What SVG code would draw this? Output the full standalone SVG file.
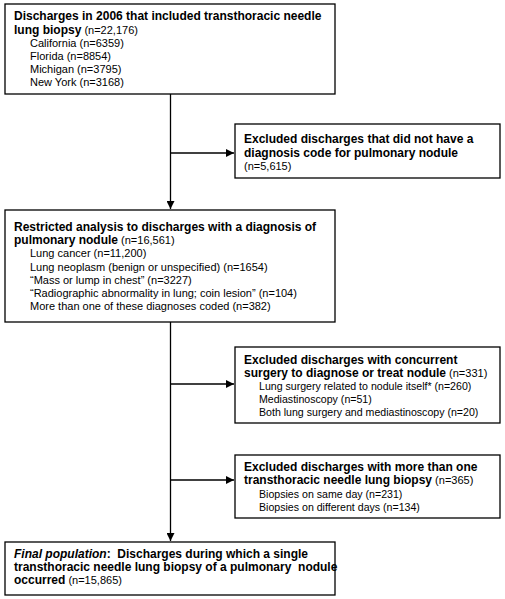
<svg xmlns="http://www.w3.org/2000/svg" width="505" height="599" viewBox="0 0 505 599">
<style>
text{font-family:"Liberation Sans",Arial,sans-serif;font-size:11px;fill:#000;white-space:pre}
.b{font-weight:bold;font-size:12px}
.s{font-size:10.6px}
.box{fill:#fff;stroke:#000;stroke-width:1.3}
.ln{stroke:#000;stroke-width:1.3;fill:none}
</style>
<defs>
<marker id="ah" viewBox="0 0 10 10" refX="10" refY="5" markerWidth="8" markerHeight="8" markerUnits="userSpaceOnUse" orient="auto">
<path d="M0,0 L10,5 L0,10 z" fill="#000"/>
</marker>
</defs>
<g id="connectors">
<line class="ln" x1="170.5" y1="94" x2="170.5" y2="209" marker-end="url(#ah)"/>
<line class="ln" x1="170.5" y1="153" x2="234" y2="153" marker-end="url(#ah)"/>
<line class="ln" x1="170.5" y1="322" x2="170.5" y2="541" marker-end="url(#ah)"/>
<line class="ln" x1="170.5" y1="384" x2="234" y2="384" marker-end="url(#ah)"/>
<line class="ln" x1="170.5" y1="480" x2="234" y2="480" marker-end="url(#ah)"/>
</g>
<g id="n1">
<rect class="box" x="5" y="4" width="330" height="90"/>
<text x="14" y="20"><tspan class="b">Discharges in 2006 that included transthoracic needle</tspan></text>
<text x="14" y="33.5"><tspan class="b">lung biopsy</tspan> (n=22,176)</text>
<text x="30" y="46.5">California (n=6359)</text>
<text x="30" y="59.5">Florida (n=8854)</text>
<text x="30" y="72.5">Michigan (n=3795)</text>
<text x="30" y="85.5">New York (n=3168)</text>
</g>
<g id="n2">
<rect class="box" x="235" y="124" width="265" height="54"/>
<text x="244" y="143" class="b">Excluded discharges that did not have a</text>
<text x="244" y="156.5" class="b">diagnosis code for pulmonary nodule</text>
<text x="244" y="170">(n=5,615)</text>
</g>
<g id="n3">
<rect class="box" x="5" y="210" width="330" height="112"/>
<text x="14" y="230.5" class="b">Restricted analysis to discharges with a diagnosis of</text>
<text x="14" y="244"><tspan class="b">pulmonary nodule</tspan> (n=16,561)</text>
<text x="30" y="257">Lung cancer (n=11,200)</text>
<text x="30" y="270.5">Lung neoplasm (benign or unspecified) (n=1654)</text>
<text x="30" y="283.5">“Mass or lump in chest” (n=3227)</text>
<text x="30" y="296.5">“Radiographic abnormality in lung; coin lesion” (n=104)</text>
<text x="30" y="310">More than one of these diagnoses coded (n=382)</text>
</g>
<g id="n4">
<rect class="box" x="235" y="347" width="265" height="76"/>
<text x="244" y="364" class="b">Excluded discharges with concurrent</text>
<text x="244" y="377"><tspan class="b">surgery to diagnose or treat nodule</tspan> (n=331)</text>
<text x="259" y="390" class="s">Lung surgery related to nodule itself* (n=260)</text>
<text x="259" y="403" class="s">Mediastinoscopy (n=51)</text>
<text x="259" y="416" class="s">Both lung surgery and mediastinoscopy (n=20)</text>
</g>
<g id="n5">
<rect class="box" x="235" y="455" width="265" height="63"/>
<text x="244" y="471" class="b">Excluded discharges with more than one</text>
<text x="244" y="484"><tspan class="b">transthoracic needle lung biopsy</tspan> (n=365)</text>
<text x="259" y="497.5" class="s">Biopsies on same day (n=231)</text>
<text x="259" y="510.5" class="s">Biopsies on different days (n=134)</text>
</g>
<g id="n6">
<rect class="box" x="5" y="542" width="330" height="53"/>
<text x="14" y="558" class="b"><tspan font-style="italic">Final population</tspan>:  Discharges during which a single</text>
<text x="14" y="571" class="b">transthoracic needle lung biopsy of a pulmonary  nodule</text>
<text x="14" y="584"><tspan class="b">occurred</tspan> (n=15,865)</text>
</g>
</svg>
